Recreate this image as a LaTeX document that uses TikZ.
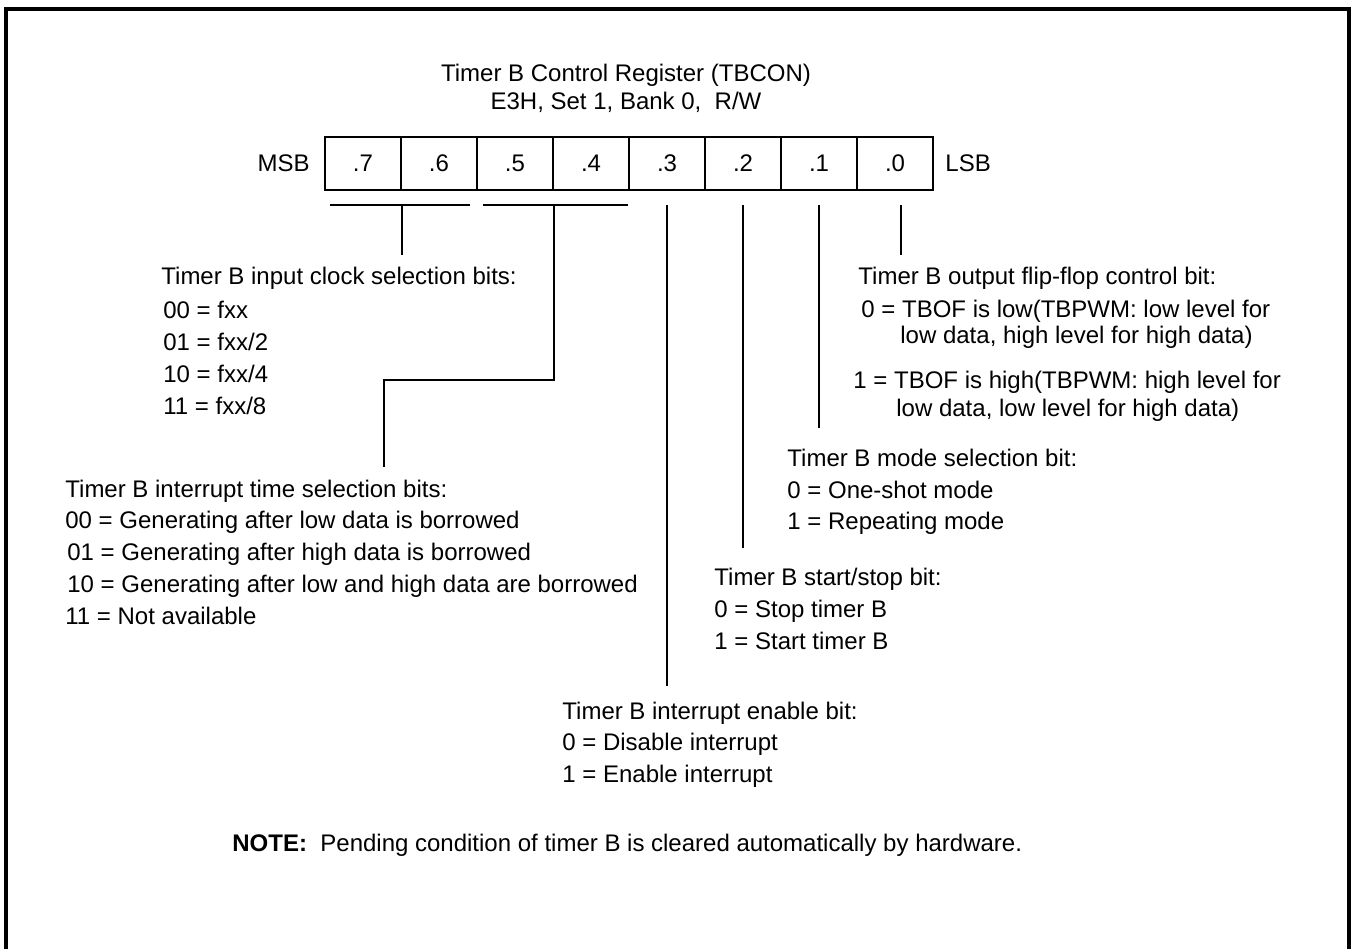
\documentclass[tikz,border=0pt]{standalone}
\usepackage{fontspec}
\setmainfont{Liberation Sans}
\begin{document}
\begin{tikzpicture}[x=0.5pt,y=-0.5pt,
  txt/.style={anchor=base west, inner sep=0pt, font=\fontsize{12}{14}\selectfont},
  ctxt/.style={anchor=base, inner sep=0pt, font=\fontsize{12}{14}\selectfont},
  cell/.style={draw, line width=1pt, minimum width=38pt, minimum height=26.5pt, inner sep=0pt, font=\fontsize{12}{14}\selectfont},
  conn/.style={line width=1pt},
  frame/.style={line width=2pt}]
\useasboundingbox (0,0) rectangle (1354,948);
% outer frame (open at bottom)
\draw[frame] (6,960) -- (6,9) -- (1349,9) -- (1349,960);
% title
\node[ctxt] (title1) at (626,81) {Timer B Control Register (TBCON)};
\node[ctxt] (title2) at (626,109) {E3H, Set 1, Bank 0,\ \ R/W};
% register
\node[cell] (b7) at (363,163) {.7};
\node[cell] (b6) at (439,163) {.6};
\node[cell] (b5) at (515,163) {.5};
\node[cell] (b4) at (591,163) {.4};
\node[cell] (b3) at (667,163) {.3};
\node[cell] (b2) at (743,163) {.2};
\node[cell] (b1) at (819,163) {.1};
\node[cell] (b0) at (895,163) {.0};
\node[txt, anchor=base east] (msb) at (310,171) {MSB};
\node[txt] (lsb) at (945,171) {LSB};
% group .7/.6
\node[txt] (g1t) at (161,284) {Timer B input clock selection bits:};
\node[txt] (g1a) at (163,318) {00 = fxx};
\node[txt] (g1b) at (163,350) {01 = fxx/2};
\node[txt] (g1c) at (163,382) {10 = fxx/4};
\node[txt] (g1d) at (163,414) {11 = fxx/8};
% group .5/.4
\node[txt] (g2t) at (65,497) {Timer B interrupt time selection bits:};
\node[txt] (g2a) at (65,528) {00 = Generating after low data is borrowed};
\node[txt] (g2b) at (67,560) {01 = Generating after high data is borrowed};
\node[txt] (g2c) at (67,592) {10 = Generating after low and high data are borrowed};
\node[txt] (g2d) at (65,624) {11 = Not available};
% bit .0
\node[txt] (g0t) at (858,284) {Timer B output flip-flop control bit:};
\node[txt] (g0a) at (861,317) {0 = TBOF is low(TBPWM: low level for};
\node[txt] (g0b) at (900,343) {low data, high level for high data)};
\node[txt] (g0c) at (853,388) {1 = TBOF is high(TBPWM: high level for};
\node[txt] (g0d) at (896,416) {low data, low level for high data)};
% bit .1
\node[txt] (gat) at (787,466) {Timer B mode selection bit:};
\node[txt] (gaa) at (787,498) {0 = One-shot mode};
\node[txt] (gab) at (787,529) {1 = Repeating mode};
% bit .2
\node[txt] (gbt) at (714,585) {Timer B start/stop bit:};
\node[txt] (gba) at (714,617) {0 = Stop timer B};
\node[txt] (gbb) at (714,649) {1 = Start timer B};
% bit .3
\node[txt] (gct) at (562,719) {Timer B interrupt enable bit:};
\node[txt] (gca) at (562,750) {0 = Disable interrupt};
\node[txt] (gcb) at (562,782) {1 = Enable interrupt};
% note
\node[txt] (note) at (232,851) {\textbf{NOTE:}\ \ Pending condition of timer B is cleared automatically by hardware.};
% connectors
\coordinate (br1) at (b7.east |- 0,205);
\coordinate (br2) at (b5.east |- 0,205);
\draw[conn] (330,205) -- (470,205);
\draw[conn] (br1) -- (br1 |- 0,255);
\draw[conn] (483,205) -- (628,205);
\coordinate (j2) at (br2 |- 0,380);
\coordinate (e2) at (384,467);
\draw[conn] (br2) -- (j2) -- (e2 |- j2) -- (e2);
\draw[conn] (b3.south |- 0,205) -- (b3.south |- 0,686);
\draw[conn] (b2.south |- 0,205) -- (b2.south |- 0,548);
\draw[conn] (b1.south |- 0,205) -- (b1.south |- 0,428);
\draw[conn] ([xshift=3pt]b0.south |- 0,205) -- ([xshift=3pt]b0.south |- 0,255);
\end{tikzpicture}
\end{document}
